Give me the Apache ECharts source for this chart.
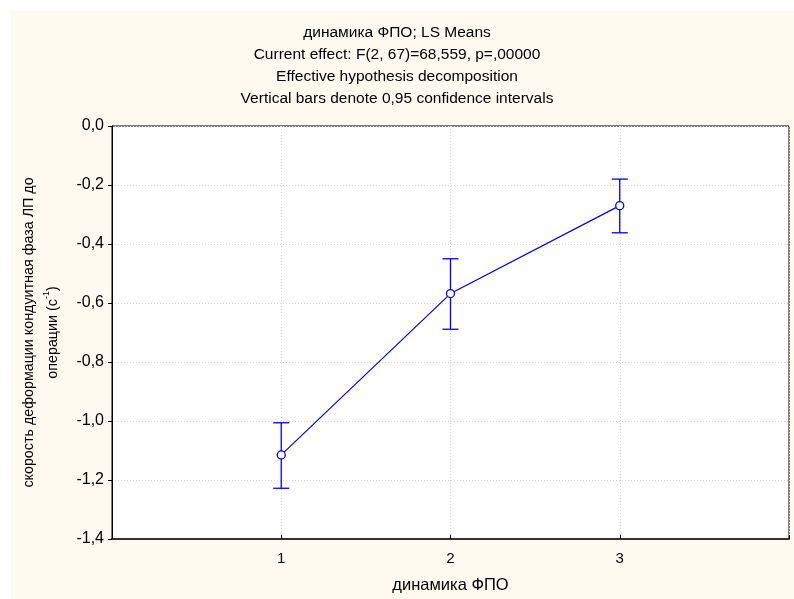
<!DOCTYPE html>
<html>
<head>
<meta charset="utf-8">
<script src="https://cdn.jsdelivr.net/npm/echarts@6/dist/echarts.min.js"></script>
<style>
  html, body { margin: 0; padding: 0; background: #ffffff; }
  #chart { width: 794px; height: 599px; }
</style>
</head>
<body>
<div id="chart"></div>
<script>
// LS means by group with 95% confidence limits
const groups = [1, 2, 3];
const means = [-1.115, -0.568, -0.270];
const upper = [-1.006, -0.450, -0.180];
const lower = [-1.228, -0.689, -0.362];
const xTicks = ['1', '2', '3'];

const FONT = "'Liberation Sans', Arial, sans-serif";
const BLUE = '#0000ff';

const chart = echarts.init(document.getElementById('chart'), null, { renderer: 'canvas' });

const meanPoints = groups.map((g, i) => [g, means[i]]);
const ciPoints = groups.map((g, i) => [g, lower[i], upper[i]]);

const option = {
  backgroundColor: '#ffffff',
  animation: false,
  graphic: [{
    type: 'rect',
    z: -10,
    shape: { x: 11, y: 11, width: 783, height: 588 },
    style: { fill: '#fffaf0' },
    silent: true
  }],
  title: {
    text: 'динамика ФПО; LS Means\nCurrent effect: F(2, 67)=68,559, p=,00000\nEffective hypothesis decomposition\nVertical bars denote 0,95 confidence intervals',
    left: 'center',
    top: 22,
    padding: 0,
    textStyle: {
      fontFamily: FONT,
      fontSize: 15.5,
      fontWeight: 'normal',
      color: '#000',
      lineHeight: 22
    }
  },
  grid: {
    left: 112, right: 5, top: 126, bottom: 60,
    show: true,
    backgroundColor: '#ffffff',
    borderColor: '#000',
    borderWidth: 1
  },
  xAxis: {
    type: 'value',
    min: 0, max: 4, interval: 1,
    name: 'динамика ФПО',
    nameLocation: 'middle',
    nameGap: 38,
    nameTextStyle: { fontFamily: FONT, fontSize: 16.5, color: '#000' },
    axisLine: { show: true, onZero: false, lineStyle: { color: '#333', width: 2 } },
    axisTick: { show: true, inside: true, length: 4, lineStyle: { color: '#000' } },
    axisLabel: {
      fontFamily: FONT, fontSize: 15, color: '#000', margin: 12,
      formatter: v => (v >= 1 && v <= 3 ? xTicks[v - 1] : '')
    },
    splitLine: { show: true, lineStyle: { color: '#d8d8d8', type: [1, 2], width: 1 } }
  },
  yAxis: {
    type: 'value',
    min: -1.4, max: 0, interval: 0.2,
    name: 'скорость деформации кондуитная фаза ЛП до\nоперации (с{sup|-1})',
    nameLocation: 'middle',
    nameGap: 40,
    nameRotate: 90,
    nameTextStyle: {
      fontFamily: FONT, fontSize: 14.3, color: '#000', lineHeight: 24, align: 'center',
      rich: {
        sup: { fontFamily: FONT, fontSize: 9, color: '#000', verticalAlign: 'top', lineHeight: 24 }
      }
    },
    axisLine: { show: true, onZero: false, lineStyle: { color: '#000', width: 1 } },
    axisTick: { show: true, inside: false, length: 4, lineStyle: { color: '#000' } },
    axisLabel: {
      fontFamily: FONT, fontSize: 16, color: '#000', margin: 8,
      formatter: v => v.toFixed(1).replace('.', ',').replace('-0,0', '0,0')
    },
    splitLine: { show: true, lineStyle: { color: '#d8d8d8', type: [1, 2], width: 1 } }
  },
  series: [
    {
      type: 'custom',
      name: 'CI',
      data: ciPoints,
      encode: { x: 0, y: [1, 2] },
      z: 3,
      renderItem: (params, api) => {
        const x = api.value(0);
        const lo = api.coord([x, api.value(1)]);
        const hi = api.coord([x, api.value(2)]);
        const half = 8;
        const style = { stroke: BLUE, lineWidth: 1.3 };
        return {
          type: 'group',
          children: [
            { type: 'line', shape: { x1: lo[0], y1: lo[1], x2: hi[0], y2: hi[1] }, style },
            { type: 'line', shape: { x1: lo[0] - half, y1: lo[1], x2: lo[0] + half, y2: lo[1] }, style },
            { type: 'line', shape: { x1: hi[0] - half, y1: hi[1], x2: hi[0] + half, y2: hi[1] }, style }
          ]
        };
      }
    },
    {
      type: 'line',
      name: 'LS Means',
      data: meanPoints,
      z: 4,
      symbol: 'circle',
      symbolSize: 8,
      showAllSymbol: true,
      lineStyle: { color: BLUE, width: 1.2 },
      itemStyle: { color: '#ffffff', borderColor: BLUE, borderWidth: 1.3 }
    }
  ]
};

chart.setOption(option);
</script>
</body>
</html>
